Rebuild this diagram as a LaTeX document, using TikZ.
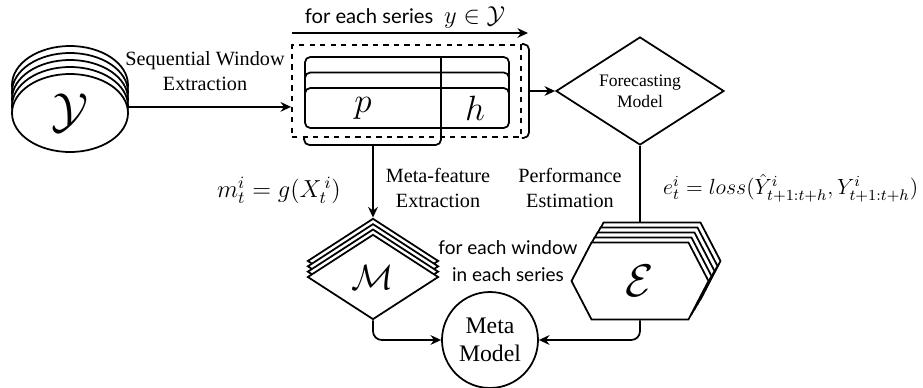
\documentclass[tikz,border=0pt]{standalone}
\usepackage{fix-cm}
\usepackage{amsmath}
\usepackage[no-math]{fontspec}
\setmainfont{Liberation Serif}
\newfontfamily\labelsans{Lato}
\usepackage{tikz}
\usetikzlibrary{positioning, shapes.geometric, shapes.symbols, arrows.meta, calc}
\usepackage{xcolor}

\begin{document}
\begin{tikzpicture}[line width=1pt, font=\fontsize{11.5}{14.5}\selectfont,
    >={Stealth[length=6pt,width=5.5pt]},
    disk/.style={ellipse, draw, fill=white, minimum width=2.32cm, minimum height=1.56cm, inner sep=0pt},
    winbox/.style={draw, fill=white, rounded corners=3pt, minimum width=4.08cm, minimum height=0.8cm},
    mdia/.style={diamond, draw, fill=white, aspect=1.54, minimum width=2.62cm, minimum height=1.70cm, inner sep=0pt},
    hexa/.style={signal, signal to=west and east, signal pointer angle=125, draw, fill=white,
          minimum width=2.74cm, minimum height=1.54cm, inner sep=0pt}]
    \useasboundingbox (0,0) rectangle (18.46,-7.76);

    % stack of series
    \foreach \k in {4,3,2,1}
      \node[disk] (Y\k) at (1.40,-2.26+0.14*\k) {};
    \node[disk] (Y) at (1.40,-2.26) {\fontsize{28}{30}\selectfont$\mathcal{Y}$};

    % windows
    \node[draw, dashed, minimum width=4.58cm, minimum height=1.84cm] (win) at (8.13,-1.82) {};
    \node[winbox] (w1) at (8.14,-1.54) {};
    \node[winbox] (w2) at (8.14,-1.85) {};
    \node[winbox] (w3) at (8.14,-2.16) {};
    \coordinate (cut) at (8.82,-1.14);
    \draw (cut) -- (cut |- win.south);
    \node[font=\fontsize{20}{22}\selectfont] (plab) at (7.26,-2.16) {$p$};
    \node[font=\fontsize{20}{22}\selectfont] (hlab) at (9.50,-2.16) {$h$};

    % braces
    \coordinate (bmid) at (7.46,-2.90);
    \draw[rounded corners=3pt] (w3.south west |- win.south) |- (bmid) -| (cut |- win.south);
    \coordinate (rmid) at (10.58,-1.82);
    \draw[rounded corners=3pt] (win.north east) -| (rmid) |- (win.south east);

    % series loop
    \coordinate (s0) at (5.84,-0.66);
    \coordinate (s1) at (10.56,-0.66);
    \draw[->] (s0) -- (s1);
    \node (slab) at (8.10,-0.34) {{\labelsans for each series}\; {\fontsize{14}{16}\selectfont$y\in\mathcal{Y}$}};

    \draw[->] (Y.6) -- (Y.6 -| win.west);
    \node[align=center] (swe) at (4.10,-1.42) {Sequential Window\\Extraction};

    % forecasting
    \node[diamond, draw, aspect=1.55, minimum width=3.36cm, minimum height=2.16cm, inner sep=0pt,
          font=\fontsize{10}{12}\selectfont, align=center] (F) at (12.80,-1.82) {Forecasting\\Model};
    \draw[->] (rmid) -- (F.west);

    % errors
    \foreach \k in {4,3,2,1}
      \node[hexa] (E\k) at (12.80+0.06*\k,-5.62+0.10*\k) {};
    \node[hexa] (E) at (12.80,-5.62) {\fontsize{26}{28}\selectfont$\mathcal{E}$};
    \draw (F.south) -- (F.south |- E4.north);

    % meta-features
    \foreach \k in {3,2,1}
      \node[mdia] (M\k) at (7.46,-5.54+0.107*\k) {};
    \node[mdia] (M) at (7.46,-5.54) {\fontsize{20}{22}\selectfont$\mathcal{M}$};
    \draw[->] (bmid) -- (M3.north);

    % meta model
    \node[circle, draw, minimum size=1.92cm, inner sep=0pt, align=center,
          font=\fontsize{13.5}{16}\selectfont] (MM) at (9.80,-6.80) {Meta\\Model};
    \draw[->, rounded corners=5pt] (M.south) |- (MM.west);
    \draw[->, rounded corners=5pt] (E.south) |- (MM.east);

    % labels
    \node (mlab) at (5.58,-3.80) {\fontsize{14}{16}\selectfont$m_t^i = g(X_t^{\,i})$};
    \node[align=center] (mfe) at (8.76,-3.76) {Meta-feature\\Extraction};
    \node[align=center] (pe) at (11.40,-3.76) {Performance\\Estimation};
    \node[anchor=east, inner sep=0pt] (elab) at (18.38,-3.76) {\fontsize{12.5}{15}\selectfont$e_t^i = loss(\hat{Y}^i_{t+1:t+h}, Y^i_{t+1:t+h})$};
    \node[align=center, font=\labelsans\fontsize{10.8}{15.5}\selectfont] (few) at (10.16,-5.22) {for each window\\in each series};
\end{tikzpicture}
\end{document}
